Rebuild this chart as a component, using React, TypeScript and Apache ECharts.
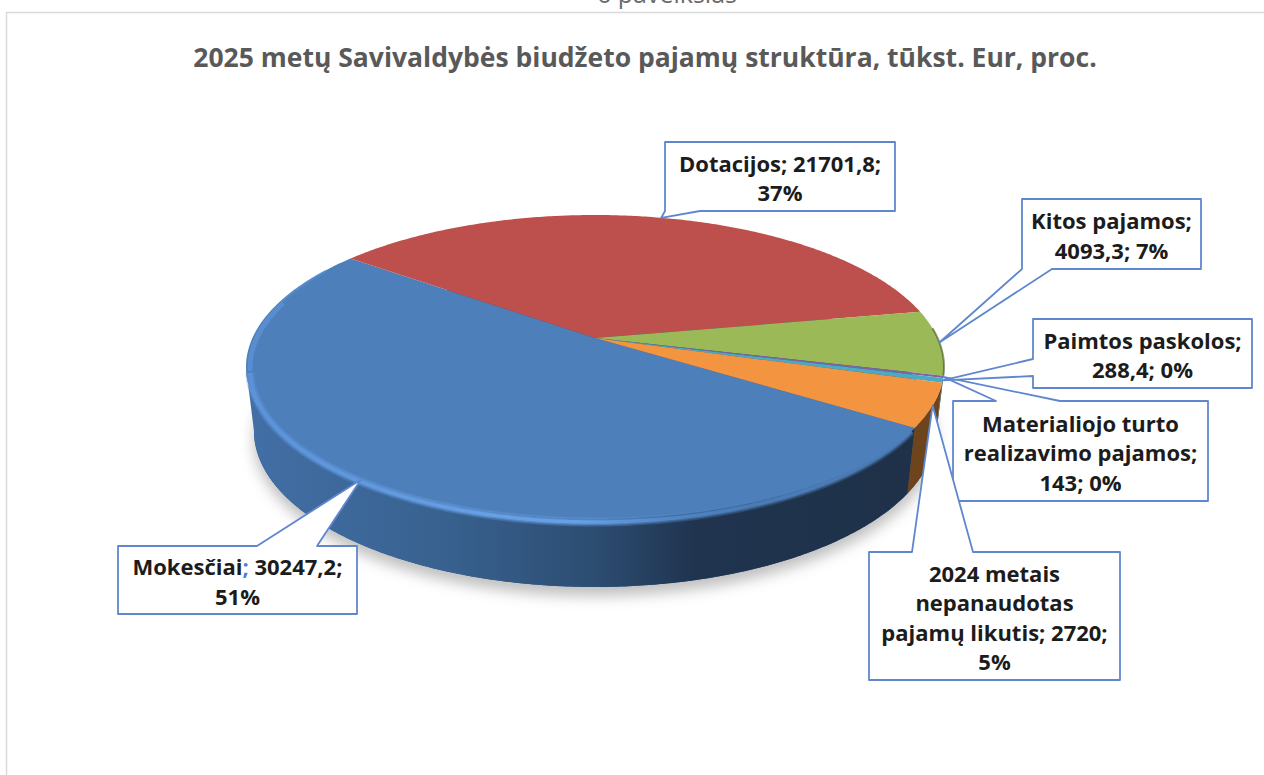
import React, { useEffect, useRef } from "react";
import * as echarts from "echarts";

const categories = ["Mokesčiai", "Dotacijos", "Kitos pajamos", "Materialiojo turto realizavimo pajamos", "Paimtos paskolos", "2024 metais nepanaudotas pajamų likutis"];
const values = [30247.2, 21701.8, 4093.3, 143, 288.4, 2720];
const valueLabels = ["30247,2", "21701,8", "4093,3", "143", "288,4", "2720"];
const topColors = ["#4d7fba", "#bd4f4c", "#9bb957", "#8064a2", "#4babc5", "#f29440"];
const sideColors = ["#2f5583", "#7c3230", "#5f7433", "#4b3b60", "#2c6a7b", "#6e441d"];
const title = "2025 metų Savivaldybės biudžeto pajamų struktūra, tūkst. Eur, proc.";

const total = values.reduce((a, b) => a + b, 0);
const percents = values.map((v) => Math.round((v / total) * 100));
const labelLines = [
  ["Mokesčiai{b|;} " + valueLabels[0] + ";", percents[0] + "%"],
  [categories[1] + "; " + valueLabels[1] + ";", percents[1] + "%"],
  ["Kitos pajamos;", valueLabels[2] + "; " + percents[2] + "%"],
  ["Materialiojo turto", "realizavimo pajamos;", valueLabels[3] + "; " + percents[3] + "%"],
  ["Paimtos paskolos;", valueLabels[4] + "; " + percents[4] + "%"],
  ["2024 metais", "nepanaudotas", "pajamų likutis; " + valueLabels[5] + ";", percents[5] + "%"],
];

// layout
const FONT = "'Open Sans', sans-serif";
const TOP = { cx: 595, cy: 367, rx: 349, ry: 152 };
const INNER = { cx: 595, cy: 370, rx: 345, ry: 152 };
const BOTTOM = { cx: 595, cy: 431, rx: 341, ry: 156 };
const Y0 = -0.19; // projected position of the pie centre inside the ellipse
const DEG = Math.PI / 180;
const START = 33.3 * DEG;
const FRONT_MIN = 11 * DEG;
const FRONT_MAX = 169 * DEG;
type Box = { x0: number; y0: number; x1: number; y1: number; side: "top" | "bottom" | "left"; a: number; b: number };
const boxes: Box[] = [
  { x0: 118, y0: 546, x1: 357, y1: 614, side: "top", a: 257, b: 317 },
  { x0: 665, y0: 142, x1: 895, y1: 211, side: "bottom", a: 665, b: 700 },
  { x0: 1022, y0: 199, x1: 1201, y1: 269, side: "bottom", a: 1022, b: 1052 },
  { x0: 953, y0: 401, x1: 1208, y1: 501, side: "top", a: 996, b: 1060 },
  { x0: 1033, y0: 319, x1: 1252, y1: 388, side: "left", a: 359, b: 376 },
  { x0: 869, y0: 552, x1: 1120, y1: 680, side: "top", a: 912, b: 973 },
];

function project(theta: number, e = TOP) {
  const u = Math.cos(theta);
  const v = Math.sin(theta);
  const d = 1 + Y0 * v;
  const X = (u * Math.sqrt(1 - Y0 * Y0)) / d;
  const Y = (v + Y0) / d;
  return [e.cx + e.rx * X, e.cy + e.ry * Y];
}
function centre(e = TOP) {
  return [e.cx, e.cy + e.ry * Y0];
}
function arc(a: number, b: number, e = TOP) {
  const n = Math.max(2, Math.ceil(Math.abs(b - a) / 0.01));
  const pts: number[][] = [];
  for (let i = 0; i <= n; i++) pts.push(project(a + ((b - a) * i) / n, e));
  return pts;
}
function sliceRange(index: number): [number, number] {
  const before = values.slice(0, index).reduce((a, b) => a + b, 0);
  const a = START + (before / total) * Math.PI * 2;
  return [a, a + (values[index] / total) * Math.PI * 2];
}
function frontParts(a: number, b: number): [number, number][] {
  const out: [number, number][] = [];
  for (const k of [0, Math.PI * 2]) {
    const s = Math.max(a, FRONT_MIN + k);
    const t = Math.min(b, FRONT_MAX + k);
    if (t > s) out.push([s, t]);
  }
  return out;
}
function calloutPoints(box: Box, tip: number[]) {
  const { x0, y0, x1, y1, side, a, b } = box;
  if (side === "top") return [[x0, y0], [a, y0], tip, [b, y0], [x1, y0], [x1, y1], [x0, y1]];
  if (side === "bottom") return [[x0, y0], [x1, y0], [x1, y1], [b, y1], tip, [a, y1], [x0, y1]];
  return [[x0, y0], [x1, y0], [x1, y1], [x0, y1], [x0, b], tip, [x0, a]];
}
const hGrad = (stops: [number, string][]) => ({
  type: "linear", x: 0, y: 0, x2: 1, y2: 0,
  colorStops: stops.map(([offset, color]) => ({ offset, color })),
});

const sideFill = (i: number) =>
  i === 0
    ? hGrad([[0, "#426fa6"], [0.3, "#38618f"], [0.52, "#2d4d72"], [0.67, "#203450"], [1, "#1e3148"]])
    : sideColors[i];

const rimStops: [number, string][] = [[0, "#5c94da"], [0.35, "#6aa3ea"], [0.5, "#6aa3ea"], [0.65, "#5189c8"], [0.75, "#4d7fba"], [1, "#4d7fba"]];

function renderSlice(params: any, api: any) {
  const i = params.dataIndex;
  const [a, b] = sliceRange(i);
  const children: any[] = [];
  if (i === 0) {
    children.push({
      type: "polygon", z2: 0,
      shape: { points: arc(0, Math.PI * 2, BOTTOM) },
      style: { fill: "#2f5583", shadowBlur: 14, shadowColor: "rgba(0,0,0,0.25)", shadowOffsetY: 9 },
    });
  }
  for (const [s, t] of frontParts(a, b)) {
    children.push({
      type: "polygon", z2: 1,
      shape: { points: [...arc(s, t, TOP), ...arc(t, s, BOTTOM)] },
      style: { fill: sideFill(i) },
    });
  }
  if (i === 0) {
    // bevel band along the front rim, thinning towards the back of the pie
    for (const [w, o] of [[9, 0.3], [6, 0.5], [3.5, 0.85]] as [number, number][]) {
      children.push({
        type: "polyline", z2: 3,
        shape: { points: arc(a, 168 * DEG, INNER) },
        style: { fill: "none", lineWidth: w, opacity: o, stroke: hGrad(rimStops), lineCap: "butt" },
      });
    }
    children.push({
      type: "polyline", z2: 3,
      shape: { points: arc(168 * DEG, 195 * DEG, { ...INNER, cy: 367 + 1 }) },
      style: { fill: "none", lineWidth: 5, opacity: 0.7, stroke: "#5c94da" },
    });
    children.push({
      type: "polyline", z2: 3,
      shape: { points: arc(195 * DEG, 210 * DEG, { ...INNER, cy: 367, rx: 347 }) },
      style: { fill: "none", lineWidth: 2.5, opacity: 0.5, stroke: "#5c94da" },
    });
  }
  children.push({
    type: "polygon", z2: 2,
    shape: { points: [centre(), ...arc(a, b, TOP)] },
    style: { fill: topColors[i] },
  });
  if (i === 2) {
    children.push({
      type: "polyline", z2: 3,
      shape: { points: arc(a + 0.12, b, TOP) },
      style: { fill: "none", lineWidth: 2, stroke: "rgba(60,70,30,0.55)" },
    });
  }
  return { type: "group", children, info: api.value(0) };
}

function renderCallout(params: any, api: any) {
  const i = params.dataIndex;
  const [a, b] = sliceRange(i);
  const box = boxes[i];
  const tip = project((a + b) / 2);
  const lines = labelLines[i];
  const cx = (box.x0 + box.x1) / 2;
  const cy = (box.y0 + box.y1) / 2;
  return {
    type: "group",
    info: api.value(0),
    children: [
      {
        type: "polygon", z2: 10 + i,
        shape: { points: calloutPoints(box, tip) },
        style: { fill: "#fff", stroke: "#5f87cf", lineWidth: 1.8, lineJoin: "round" },
      },
      {
        type: "text", z2: 20 + i,
        style: {
          x: cx, y: cy + 1,
          text: lines.join("\n"),
          align: "center", verticalAlign: "middle",
          font: `700 22px ${FONT}`,
          fill: "#1c1c1c",
          lineHeight: 29.5,
          rich: {
            b: { font: `700 22px ${FONT}`, fill: "#4a7fd0", lineHeight: 29.5 },
          },
        },
      },
    ],
  };
}

export default function App() {
  const ref = useRef<HTMLDivElement>(null);
  useEffect(() => {
    const chart = echarts.init(ref.current!, undefined, { renderer: "svg" });
    chart.setOption({
      animation: false,
      backgroundColor: "#ffffff",
      title: {
        text: title,
        left: 640,
        top: 38,
        textAlign: "center",
        textStyle: { fontFamily: FONT, fontWeight: 700, fontSize: 26.5, color: "#595959" },
      },
      graphic: [
        { type: "line", shape: { x1: 6, y1: 12.5, x2: 1264, y2: 12.5 }, style: { stroke: "#d9d9d9", lineWidth: 1.5 } },
        { type: "line", shape: { x1: 6.5, y1: 12, x2: 6.5, y2: 775 }, style: { stroke: "#d9d9d9", lineWidth: 1.5 } },
        {
          type: "text",
          style: { x: 667, y: -7, text: "6 paveikslas", align: "center", verticalAlign: "middle", font: `400 25px ${FONT}`, fill: "#6b6b6b" },
        },
      ],
      series: [
        { type: "custom", name: "Pajamos", coordinateSystem: "none", data: values.map((v) => [v]), renderItem: renderSlice, silent: true },
        { type: "custom", name: "Etiketės", coordinateSystem: "none", data: values.map((v) => [v]), renderItem: renderCallout, silent: true },
      ],
    });
    return () => chart.dispose();
  }, []);
  return <div ref={ref} style={{ position: "absolute", left: 0, top: 0, width: 1264, height: 775 }} />;
}
